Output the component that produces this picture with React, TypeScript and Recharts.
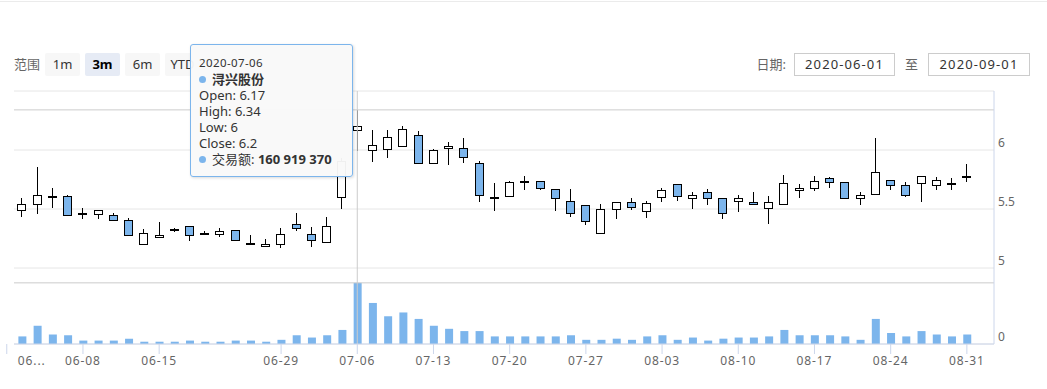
import { Bar, CartesianGrid, ComposedChart, ReferenceLine, XAxis, YAxis } from "recharts";

const dates = [
  "2020-06-02", "2020-06-03", "2020-06-04", "2020-06-05", "2020-06-08", "2020-06-09", "2020-06-10", "2020-06-11",
  "2020-06-12", "2020-06-15", "2020-06-16", "2020-06-17", "2020-06-18", "2020-06-19", "2020-06-22", "2020-06-23",
  "2020-06-24", "2020-06-29", "2020-06-30", "2020-07-01", "2020-07-02", "2020-07-03", "2020-07-06", "2020-07-07",
  "2020-07-08", "2020-07-09", "2020-07-10", "2020-07-13", "2020-07-14", "2020-07-15", "2020-07-16", "2020-07-17",
  "2020-07-20", "2020-07-21", "2020-07-22", "2020-07-23", "2020-07-24", "2020-07-27", "2020-07-28", "2020-07-29",
  "2020-07-30", "2020-07-31", "2020-08-03", "2020-08-04", "2020-08-05", "2020-08-06", "2020-08-07", "2020-08-10",
  "2020-08-11", "2020-08-12", "2020-08-13", "2020-08-14", "2020-08-17", "2020-08-18", "2020-08-19", "2020-08-20",
  "2020-08-21", "2020-08-24", "2020-08-25", "2020-08-26", "2020-08-27", "2020-08-28", "2020-08-31"
];

const openPrices = [
  5.49, 5.54, 5.6, 5.61, 5.46, 5.46, 5.45, 5.41, 5.2, 5.26, 5.32, 5.36, 5.3, 5.29, 5.32, 5.2,
  5.19, 5.2, 5.37, 5.29, 5.22, 5.6, 6.17, 6.0, 6.01, 6.03, 6.13, 5.89, 6.02, 6.02, 5.89, 5.59,
  5.61, 5.73, 5.74, 5.67, 5.57, 5.53, 5.3, 5.5, 5.56, 5.48, 5.6, 5.71, 5.59, 5.64, 5.59, 5.57,
  5.56, 5.51, 5.54, 5.66, 5.68, 5.76, 5.73, 5.59, 5.63, 5.75, 5.7, 5.72, 5.7, 5.71, 5.77
];
const highPrices = [
  5.59, 5.86, 5.68, 5.62, 5.51, 5.49, 5.47, 5.42, 5.33, 5.39, 5.34, 5.36, 5.31, 5.34, 5.32, 5.28,
  5.25, 5.34, 5.47, 5.35, 5.43, 5.93, 6.34, 6.17, 6.17, 6.2, 6.16, 6.01, 6.07, 6.1, 5.91, 5.72,
  5.74, 5.78, 5.74, 5.67, 5.67, 5.53, 5.54, 5.56, 5.59, 5.57, 5.68, 5.71, 5.64, 5.67, 5.59, 5.62,
  5.64, 5.61, 5.79, 5.71, 5.78, 5.77, 5.73, 5.64, 6.1, 5.75, 5.73, 5.78, 5.77, 5.76, 5.88
];
const lowPrices = [
  5.44, 5.47, 5.52, 5.45, 5.42, 5.42, 5.41, 5.28, 5.2, 5.26, 5.31, 5.24, 5.29, 5.27, 5.24, 5.2,
  5.19, 5.18, 5.32, 5.19, 5.22, 5.51, 6.0, 5.91, 5.94, 6.03, 5.89, 5.89, 5.88, 5.9, 5.57, 5.49,
  5.61, 5.67, 5.67, 5.49, 5.44, 5.37, 5.3, 5.42, 5.5, 5.43, 5.57, 5.58, 5.51, 5.54, 5.42, 5.48,
  5.54, 5.38, 5.54, 5.6, 5.66, 5.69, 5.59, 5.54, 5.63, 5.67, 5.61, 5.57, 5.67, 5.67, 5.74
];
const closePrices = [
  5.54, 5.62, 5.61, 5.45, 5.47, 5.49, 5.41, 5.28, 5.3, 5.28, 5.33, 5.28, 5.29, 5.31, 5.24, 5.21,
  5.2, 5.29, 5.34, 5.24, 5.36, 5.91, 6.2, 6.04, 6.11, 6.18, 5.89, 6.0, 6.03, 5.94, 5.62, 5.6,
  5.73, 5.74, 5.68, 5.59, 5.47, 5.4, 5.5, 5.56, 5.52, 5.55, 5.66, 5.61, 5.62, 5.59, 5.47, 5.59,
  5.54, 5.56, 5.72, 5.68, 5.74, 5.73, 5.59, 5.62, 5.81, 5.7, 5.62, 5.78, 5.75, 5.72, 5.78
];
const volumes = [
  20000000, 48000000, 25000000, 23000000, 9000000, 9000000, 9000000, 14000000, 6000000, 6000000, 6000000,
  9000000, 6000000, 6000000, 9000000, 9000000, 6000000, 11000000, 23000000, 17000000, 23000000, 37000000,
  160919370, 108000000, 73000000, 83000000, 66000000, 48000000, 40000000, 34000000, 34000000, 20000000,
  20000000, 20000000, 20000000, 20000000, 23000000, 11000000, 11000000, 14000000, 11000000, 20000000,
  23000000, 11000000, 17000000, 9000000, 14000000, 17000000, 17000000, 20000000, 37000000, 23000000,
  23000000, 23000000, 20000000, 11000000, 66000000, 29000000, 20000000, 34000000, 25000000, 20000000, 25000000
];

const tickIndexes = [-1, 4, 9, 17, 22, 27, 32, 37, 42, 47, 52, 57, 62];
const tickLabels = ["06...", "06-08", "06-15", "06-29", "07-06", "07-13", "07-20", "07-27", "08-03", "08-10", "08-17", "08-24", "08-31"];
const priceTicks = [5, 5.5, 6, 6.5];
const volumeTicks = [0, 200000000];
const rangeButtons = ["1m", "3m", "6m", "YTD"];
const selectedRange = "3m";
const stockName = "浔兴股份";
const volumeName = "交易额";
const rangeFrom = "2020-06-01";
const rangeTo = "2020-09-01";
const hoverIndex = 22;

const data = dates.map((date, i) => ({
  idx: i,
  date,
  open: openPrices[i],
  high: highPrices[i],
  low: lowPrices[i],
  close: closePrices[i],
  volume: volumes[i]
}));

const FONT = "'Noto Sans', 'Noto Sans CJK SC', sans-serif";
const X_DOMAIN: [number, number] = [-0.525, 63.78];
const BLUE = "#7cb5ec";
const AXIS = "#ccd6eb";
const GRID = "#e6e6e6";
const CROSS = "#cccccc";

function Candle(props: any) {
  const { x, y, width, height, payload } = props;
  if (!payload) return null;
  const { open, close, high, low } = payload;
  const top = Math.min(y, y + height);
  const h = Math.abs(height);
  const yOf = (v: number) => top + ((high - v) / (high - low)) * h;
  const rx = Math.round(x);
  const cx = rx + Math.round(width / 2) - 0.5;
  const bodyTop = Math.round(yOf(Math.max(open, close))) + 0.5;
  const bodyBottom = Math.round(yOf(Math.min(open, close))) + 0.5;
  const up = close >= open;
  return (
    <g>
      <line x1={cx} x2={cx} y1={Math.round(top)} y2={Math.round(top + h) + 1} stroke="#000" strokeWidth={1} />
      <rect
        x={rx + 0.5}
        y={bodyTop}
        width={Math.round(width) - 1}
        height={Math.max(bodyBottom - bodyTop, 0.01)}
        fill={up ? "#ffffff" : BLUE}
        stroke="#000"
        strokeWidth={1}
      />
    </g>
  );
}

function PriceTick({ x, y, payload }: any) {
  if (payload.value === 6.5) return null;
  return (
    <text x={x} y={y - 3} textAnchor="start" fill="#666666" fontSize={12} fontFamily={FONT}>
      {payload.value}
    </text>
  );
}

function VolumeTick({ x, y, payload }: any) {
  if (payload.value !== 0) return null;
  return (
    <text x={x} y={y - 3} textAnchor="start" fill="#666666" fontSize={12} fontFamily={FONT}>
      {payload.value}
    </text>
  );
}

function DateTick({ x, y, payload }: any) {
  const pos = tickIndexes.indexOf(payload.value);
  const first = payload.value < 0;
  return (
    <text
      x={first ? x + 11 : x}
      y={y + 11}
      textAnchor={first ? "start" : "middle"}
      fill="#666666"
      fontSize={12}
      letterSpacing={0.9}
      fontFamily={FONT}
    >
      {tickLabels[pos]}
    </text>
  );
}

function formatVolume(v: number) {
  return String(v).replace(/\B(?=(\d{3})+(?!\d))/g, " ");
}

function Dot() {
  return (
    <span
      style={{
        display: "inline-block",
        width: 7,
        height: 7,
        borderRadius: "50%",
        background: BLUE,
        marginRight: 6,
        verticalAlign: "1px"
      }}
    />
  );
}

export default function App() {
  const point = data[hoverIndex];
  return (
    <div
      style={{
        position: "absolute",
        left: 0,
        top: 0,
        width: 1047,
        height: 389,
        overflow: "hidden",
        background: "#ffffff",
        fontFamily: FONT
      }}
    >
      <div style={{ position: "absolute", left: 0, top: 1, width: 1047, height: 1, background: "#ebebeb" }} />

      <div style={{ position: "absolute", left: 0, top: 0 }}>
        <ComposedChart width={1047} height={268} data={data} margin={{ top: 91, right: 0, bottom: 0, left: 14 }}>
          <CartesianGrid vertical={false} stroke={GRID} />
          <XAxis type="number" dataKey="idx" domain={X_DOMAIN} hide allowDataOverflow />
          <YAxis
            orientation="right"
            width={53}
            domain={[5, 6.5]}
            ticks={priceTicks}
            interval={0}
            tickSize={0}
            tickMargin={4}
            tickLine={false}
            axisLine={{ stroke: AXIS }}
            tick={<PriceTick />}
            allowDataOverflow
          />
          <ReferenceLine y={6.34} stroke={CROSS} />
          <ReferenceLine x={hoverIndex} stroke={CROSS} />
          <Bar dataKey={(d: any) => [d.low, d.high]} barSize={9} shape={<Candle />} isAnimationActive={false} />
        </ComposedChart>
      </div>

      <div style={{ position: "absolute", left: 0, top: 268 }}>
        <ComposedChart width={1047} height={121} data={data} margin={{ top: 0, right: 0, bottom: 0, left: 14 }}>
          <CartesianGrid vertical={false} stroke={GRID} />
          <XAxis
            type="number"
            dataKey="idx"
            domain={X_DOMAIN}
            ticks={tickIndexes}
            interval={0}
            height={45}
            tickSize={10}
            tickMargin={0}
            tickLine={{ stroke: AXIS }}
            axisLine={{ stroke: AXIS }}
            tick={<DateTick />}
            allowDataOverflow
          />
          <YAxis
            orientation="right"
            width={53}
            domain={[0, 200000000]}
            ticks={volumeTicks}
            interval={0}
            tickSize={0}
            tickMargin={4}
            tickLine={false}
            axisLine={{ stroke: AXIS }}
            tick={<VolumeTick />}
            allowDataOverflow
          />
          <ReferenceLine y={point.volume} stroke={CROSS} />
          <ReferenceLine x={hoverIndex} stroke={CROSS} />
          <Bar dataKey="volume" barSize={8} fill={BLUE} isAnimationActive={false} />
        </ComposedChart>
      </div>

      <div style={{ position: "absolute", left: 14, top: 53, height: 23, lineHeight: "23px", fontSize: 13, color: "#666666" }}>
        范围
      </div>
      {rangeButtons.map((label, i) => (
        <div
          key={label}
          style={{
            position: "absolute",
            left: 45 + i * 40,
            top: 53,
            width: 35,
            height: 23,
            lineHeight: "23px",
            textAlign: "center",
            fontSize: 13,
            background: label === selectedRange ? "#e6ebf5" : "#f7f7f7",
            color: label === selectedRange ? "#000000" : "#333333",
            fontWeight: label === selectedRange ? 700 : 400,
            borderRadius: 2
          }}
        >
          {label}
        </div>
      ))}

      <div style={{ position: "absolute", right: 1047 - 786, top: 53, height: 23, lineHeight: "23px", fontSize: 13, color: "#666666" }}>
        日期:
      </div>
      <div
        style={{
          position: "absolute",
          left: 794,
          top: 53,
          width: 101,
          height: 23,
          boxSizing: "border-box",
          border: "1px solid #cccccc",
          lineHeight: "21px",
          textAlign: "center",
          fontSize: 13,
          letterSpacing: 1.1,
          color: "#333333"
        }}
      >
        {rangeFrom}
      </div>
      <div style={{ position: "absolute", left: 905, top: 53, height: 23, lineHeight: "23px", fontSize: 13, color: "#666666" }}>
        至
      </div>
      <div
        style={{
          position: "absolute",
          left: 928,
          top: 53,
          width: 102,
          height: 23,
          boxSizing: "border-box",
          border: "1px solid #cccccc",
          lineHeight: "21px",
          textAlign: "center",
          fontSize: 13,
          letterSpacing: 1.1,
          color: "#333333"
        }}
      >
        {rangeTo}
      </div>

      <div
        style={{
          position: "absolute",
          left: 190,
          top: 44,
          width: 163,
          height: 133,
          boxSizing: "border-box",
          border: `1px solid ${BLUE}`,
          borderRadius: 3,
          background: "rgba(249,249,249,0.96)",
          boxShadow: "1px 1px 3px rgba(0,0,0,0.15)",
          padding: "10px 0 0 8px",
          color: "#333333",
          fontSize: 13,
          lineHeight: "16px",
          whiteSpace: "nowrap"
        }}
      >
        <div style={{ fontSize: 11.5, letterSpacing: 0.4 }}>{point.date}</div>
        <div style={{ fontWeight: 700 }}>
          <Dot />
          {stockName}
        </div>
        <div>Open: {point.open}</div>
        <div>High: {point.high}</div>
        <div>Low: {point.low}</div>
        <div>Close: {point.close}</div>
        <div>
          <Dot />
          {volumeName}: <b>{formatVolume(point.volume)}</b>
        </div>
      </div>
    </div>
  );
}
